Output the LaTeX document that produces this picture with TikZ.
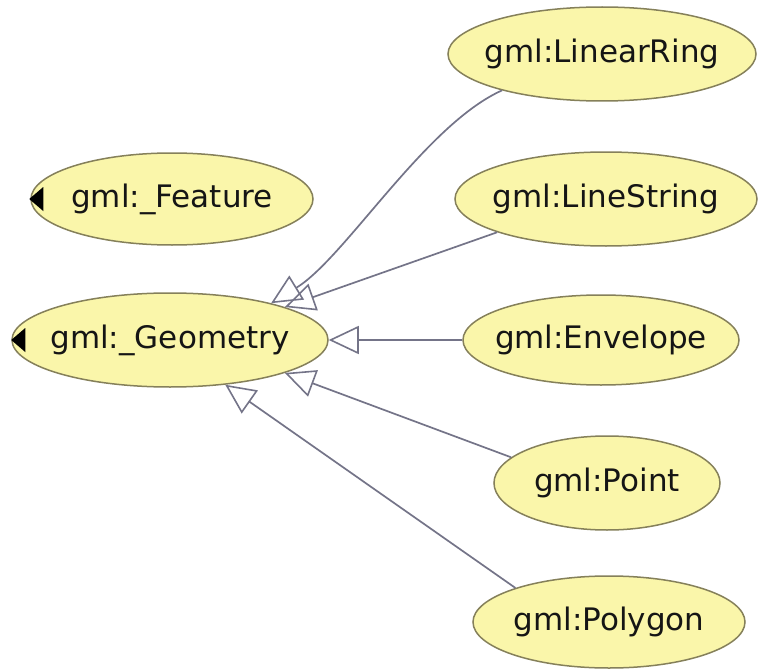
\documentclass[tikz,border=0pt]{standalone}
\usepackage{fontspec}
\setmainfont{DejaVu Sans}
\usetikzlibrary{shapes.geometric,arrows.meta}
\definecolor{classfill}{HTML}{FAF6AA}
\definecolor{classedge}{HTML}{85805A}
\definecolor{genline}{HTML}{747488}
\definecolor{labeltext}{HTML}{151515}
\newcommand{\clsname}[1]{\makebox[0pt][c]{#1}}
\tikzset{
  cls/.style={ellipse, draw=classedge, line width=1.5pt, fill=classfill,
    inner sep=0pt, text=labeltext, font=\fontsize{31}{31}\selectfont},
  gen/.style={draw=genline, line width=1.7pt,
    -{Triangle[open, length=30pt, width=28pt, line width=1.6pt]}},
  hidemark/.style={fill=black, draw=none}
}
\begin{document}
\begin{tikzpicture}[x=1pt, y=-1pt]
  \useasboundingbox (0,0) rectangle (761,669);
  \fill[white] (0,0) rectangle (761,669);

  % class nodes
  \node[cls, minimum width=308pt, minimum height=94pt] (ring) at (602,54) {\clsname{gml:LinearRing}};
  \node[cls, minimum width=302pt, minimum height=94pt] (ls)   at (606,199) {\clsname{gml:LineString}};
  \node[cls, minimum width=276pt, minimum height=90pt] (env)  at (601,340) {\clsname{gml:Envelope}};
  \node[cls, minimum width=226pt, minimum height=94pt] (pt)   at (607,483) {\clsname{gml:Point}};
  \node[cls, minimum width=272pt, minimum height=92pt] (poly) at (609,622) {\clsname{gml:Polygon}};
  \node[cls, minimum width=282pt, minimum height=92pt] (feat) at (172,199) {\clsname{gml:\_Feature}};
  \node[cls, minimum width=316pt, minimum height=94pt] (geo)  at (170,340) {\clsname{gml:\_Geometry}};

  % collapse markers on the left of the superclasses
  \fill[hidemark] ([xshift=-1pt]feat.west) -- ++(14,-12) -- ++(0,24) -- cycle;
  \fill[hidemark] (geo.west) -- ++(14,-12) -- ++(0,24) -- cycle;

  % generalisation links
  \draw[gen] (ring.200) .. controls (425,125) and (345,258) .. (geo.20);
  \draw[gen] (ls.197) -- (geo.16);
  \draw[gen] (env.west) -- (geo.east);
  \draw[gen] (pt.165) -- (geo.-16);
  \draw[gen] (poly.160) -- (geo.-39);
\end{tikzpicture}
\end{document}
